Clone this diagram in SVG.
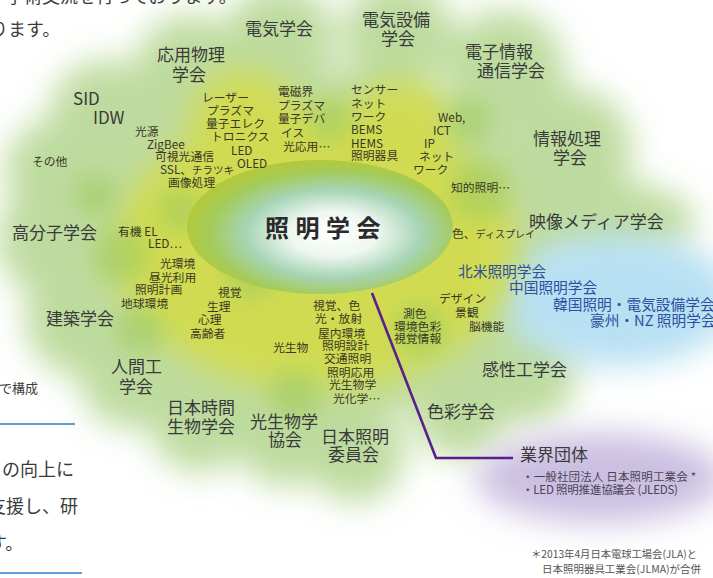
<svg xmlns="http://www.w3.org/2000/svg" width="713" height="578" viewBox="0 0 713 578">
<defs>
<style>
text{font-family:"Noto Sans CJK JP","Noto Sans",sans-serif}
.big{font-size:17px;fill:#3a3a3a}
.sm{font-size:11.8px;fill:#3a3824}
.blue{font-size:14.7px;fill:#2d4f9f}
.para{font-size:18px;fill:#3a3a3a}
.note{font-size:10.5px;fill:#555}
.bul{font-size:11.5px;fill:#4a4458}
.title{font-size:24px;font-weight:bold;fill:#2a2a2a;letter-spacing:6.5px}
.rule{stroke:#2f7fc0;stroke-width:1.3}
</style>
<filter id="b1" x="-50%" y="-50%" width="200%" height="200%"><feGaussianBlur stdDeviation="16"/></filter>
<filter id="b2" x="-50%" y="-50%" width="200%" height="200%"><feGaussianBlur stdDeviation="11"/></filter>
<radialGradient id="eg" cx="0.55" cy="0.55" r="0.55">
<stop offset="0" stop-color="#ffffff"/>
<stop offset="0.3" stop-color="#eef7f0"/>
<stop offset="0.6" stop-color="#a6d4b4"/>
<stop offset="0.85" stop-color="#a4cb58"/>
<stop offset="1" stop-color="#b2c93c"/>
</radialGradient>
</defs>
<rect width="713" height="578" fill="#ffffff"/>
<g id="background">
<g fill="#bedb9f" filter="url(#b1)">
<circle cx="280" cy="40" r="55"/>
<circle cx="398" cy="35" r="55"/>
<circle cx="505" cy="70" r="60"/>
<circle cx="570" cy="150" r="62"/>
<ellipse cx="600" cy="222" rx="95" ry="42"/>
<circle cx="190" cy="70" r="55"/>
<circle cx="105" cy="115" r="55"/>
<circle cx="55" cy="170" r="50"/>
<circle cx="55" cy="240" r="58"/>
<circle cx="80" cy="320" r="55"/>
<circle cx="130" cy="378" r="50"/>
<circle cx="200" cy="422" r="50"/>
<circle cx="285" cy="436" r="50"/>
<circle cx="355" cy="452" r="50"/>
<circle cx="460" cy="410" r="48"/>
<circle cx="525" cy="372" r="52"/>
<ellipse cx="320" cy="245" rx="240" ry="175"/>
</g>
<ellipse cx="618" cy="300" rx="118" ry="66" fill="#b8e0f3" filter="url(#b1)"/>
<ellipse cx="600" cy="478" rx="125" ry="45" fill="#cbbfe1" filter="url(#b1)"/>
<g fill="#d3dc4c" filter="url(#b1)" opacity="0.92">
<ellipse cx="315" cy="250" rx="200" ry="140"/>
<circle cx="245" cy="125" r="55"/>
<circle cx="400" cy="135" r="55"/>
</g>
<g fill="#9fcb5e" filter="url(#b2)" opacity="0.6">
<circle cx="120" cy="255" r="28"/>
<circle cx="250" cy="275" r="24"/>
<circle cx="420" cy="330" r="26"/>
<circle cx="295" cy="395" r="26"/>
<circle cx="480" cy="190" r="30"/>
<circle cx="180" cy="210" r="22"/>
<circle cx="330" cy="120" r="22"/>
<circle cx="140" cy="330" r="24"/>
<circle cx="95" cy="195" r="22"/>
<circle cx="470" cy="120" r="22"/>
</g>
</g>
<g id="page-text">
<text class="para" x="6" y="3">学術交流を行っております。</text>
<text class="para" x="-10" y="36" font-size="16">ります。</text>
<text class="para" x="-1" y="393" style="font-size:13px">で構成</text>
<line class="rule" x1="0" y1="424" x2="75" y2="424"/>
<text class="para" x="2" y="476">の向上に</text>
<text class="para" x="-12" y="513">支援し、研</text>
<text class="para" x="-11" y="550">す。</text>
<line class="rule" x1="0" y1="573" x2="82" y2="573"/>
</g>
<g id="connectors">
<polyline points="372,293 436,458 513,458" fill="none" stroke="#5b1f8c" stroke-width="2.6"/>
</g>
<g id="node-center">
<ellipse cx="320" cy="227" rx="133" ry="67" fill="url(#eg)"/>
<text class="title" x="265" y="237">照明学会</text>
</g>
<g id="node-societies">
<text class="big" x="245" y="35">電気学会</text>
<text class="big" x="362" y="26">電気設備</text>
<text class="big" x="381" y="45">学会</text>
<text class="big" x="465" y="58">電子情報</text>
<text class="big" x="477" y="77">通信学会</text>
<text class="big" x="157" y="61">応用物理</text>
<text class="big" x="172" y="81">学会</text>
<text class="big" x="73" y="105">SID</text>
<text class="big" x="93" y="124">IDW</text>
<text class="sm" x="32" y="165.5">その他</text>
<text class="big" x="533" y="145">情報処理</text>
<text class="big" x="553" y="164">学会</text>
<text class="big" x="529" y="228">映像メディア学会</text>
<text class="big" x="12" y="239">高分子学会</text>
<text class="big" x="46" y="325">建築学会</text>
<text class="big" x="111" y="373">人間工</text>
<text class="big" x="119" y="393">学会</text>
<text class="big" x="167" y="414">日本時間</text>
<text class="big" x="167" y="433">生物学会</text>
<text class="big" x="250" y="428">光生物学</text>
<text class="big" x="268" y="446">協会</text>
<text class="big" x="321" y="443">日本照明</text>
<text class="big" x="328" y="461">委員会</text>
<text class="big" x="427" y="418">色彩学会</text>
<text class="big" x="482" y="376">感性工学会</text>
</g>
<g id="node-overseas">
<text class="blue" x="458" y="277">北米照明学会</text>
<text class="blue" x="509" y="293">中国照明学会</text>
<text class="blue" x="553" y="310">韓国照明・電気設備学会</text>
<text class="blue" x="590" y="326">豪州・NZ 照明学会</text>
</g>
<g id="node-industry">
<text class="big" x="520" y="461">業界団体</text>
<text class="bul" x="522" y="481" textLength="174">・一般社団法人 日本照明工業会 *</text>
<text class="bul" x="522" y="494" textLength="156">・LED 照明推進協議会 (JLEDS)</text>
<text class="note" x="531" y="558" textLength="166" lengthAdjust="spacingAndGlyphs">＊2013年4月日本電球工場会(JLA)と</text>
<text class="note" x="542" y="573" textLength="159" lengthAdjust="spacingAndGlyphs">日本照明器具工業会(JLMA)が合併</text>
</g>
<g id="node-topics">
<text class="sm" x="202" y="101.5">レーザー</text>
<text class="sm" x="207" y="114.5">プラズマ</text>
<text class="sm" x="206" y="127.5">量子エレク</text>
<text class="sm" x="211" y="141">トロニクス</text>
<text class="sm" x="231" y="155">LED</text>
<text class="sm" x="237" y="167.5">OLED</text>
<text class="sm" x="135" y="135.5">光源</text>
<text class="sm" x="147" y="148.5">ZigBee</text>
<text class="sm" x="155" y="160.5">可視光通信</text>
<text class="sm" x="160" y="173.5">SSL、<tspan font-size="10.5">チラツキ</tspan></text>
<text class="sm" x="168" y="186.5">画像処理</text>
<text class="sm" x="278" y="95.5">電磁界</text>
<text class="sm" x="278" y="109.5">プラズマ</text>
<text class="sm" x="278" y="122.5">量子デバ</text>
<text class="sm" x="281" y="136.5">イス</text>
<text class="sm" x="283" y="150.5">光応用…</text>
<text class="sm" x="351" y="93.5">センサー</text>
<text class="sm" x="351" y="107.5">ネット</text>
<text class="sm" x="351" y="120.5">ワーク</text>
<text class="sm" x="351" y="133.5">BEMS</text>
<text class="sm" x="351" y="147.5">HEMS</text>
<text class="sm" x="351" y="159.5">照明器具</text>
<text class="sm" x="438" y="121.5">Web,</text>
<text class="sm" x="433" y="134.5">ICT</text>
<text class="sm" x="424" y="147.5">IP</text>
<text class="sm" x="419" y="160.5">ネット</text>
<text class="sm" x="413" y="173.5">ワーク</text>
<text class="sm" x="451" y="191.5">知的照明…</text>
<text class="sm" x="452" y="237.5">色、<tspan font-size="10">ディスプレイ</tspan></text>
<text class="sm" x="118" y="235.5">有機 EL</text>
<text class="sm" x="148" y="247.5">LED…</text>
<text class="sm" x="160" y="267.5">光環境</text>
<text class="sm" x="149" y="281.5">昼光利用</text>
<text class="sm" x="135" y="293.5">照明計画</text>
<text class="sm" x="121" y="307.5">地球環境</text>
<text class="sm" x="218" y="296.5">視覚</text>
<text class="sm" x="207" y="310.5">生理</text>
<text class="sm" x="198" y="323.5">心理</text>
<text class="sm" x="190" y="337.5">高齢者</text>
<text class="sm" x="273" y="351.5">光生物</text>
<text class="sm" x="313" y="309.5">視覚、色</text>
<text class="sm" x="315" y="322.5">光・放射</text>
<text class="sm" x="318" y="337.5">屋内環境</text>
<text class="sm" x="322" y="349.5">照明設計</text>
<text class="sm" x="324" y="362.5">交通照明</text>
<text class="sm" x="327" y="376.5">照明応用</text>
<text class="sm" x="329" y="388.5">光生物学</text>
<text class="sm" x="333" y="402.5">光化学…</text>
<text class="sm" x="403" y="317.5">測色</text>
<text class="sm" x="394" y="330.5">環境色彩</text>
<text class="sm" x="394" y="342.5">視覚情報</text>
<text class="sm" x="439" y="302.5">デザイン</text>
<text class="sm" x="455" y="316.5">景観</text>
<text class="sm" x="469" y="330.5">脳機能</text>
</g>
</svg>
